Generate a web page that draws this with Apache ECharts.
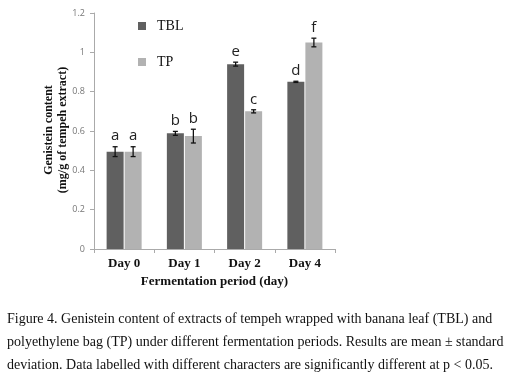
<!DOCTYPE html>
<html><head><meta charset="utf-8">
<script src="https://cdn.jsdelivr.net/npm/echarts@6/dist/echarts.min.js"></script>
<style>html,body{margin:0;padding:0;background:#fff}#c{width:518px;height:385px}</style>
</head><body><div id="c"></div>
<script>
const categories = ['Day 0', 'Day 1', 'Day 2', 'Day 4'];
const tblValues = [0.495, 0.588, 0.94, 0.85];
const tpValues = [0.495, 0.574, 0.70, 1.05];
const tblErr = [0.025, 0.01, 0.01, 0.003];
const tpErr = [0.025, 0.035, 0.008, 0.022];
const tblLetters = ['a', 'b', 'e', 'd'];
const tpLetters = ['a', 'b', 'c', 'f'];
const yTicks = [0, 0.2, 0.4, 0.6, 0.8, 1, 1.2];

const chart = echarts.init(document.getElementById('c'));
const OFF = 9;
function errSeries(vals, errs, letters, sign) {
  return {
    type: 'custom',
    z: 10,
    data: vals.map((v, i) => [i, v, errs[i]]),
    renderItem: function (params, api) {
      const i = api.value(0), v = api.value(1), e = api.value(2);
      const hi = api.coord([i, v + e]);
      const lo = api.coord([i, v - e]);
      const x = hi[0] + sign * OFF;
      const s = { stroke: '#111', lineWidth: 1.3 };
      return {
        type: 'group',
        children: [
          { type: 'line', shape: { x1: x, y1: hi[1], x2: x, y2: lo[1] }, style: s },
          { type: 'line', shape: { x1: x - 2.5, y1: hi[1], x2: x + 2.5, y2: hi[1] }, style: s },
          { type: 'line', shape: { x1: x - 2.5, y1: lo[1], x2: x + 2.5, y2: lo[1] }, style: s },
          { type: 'text', x: x, y: hi[1] - 3, style: { text: letters[params.dataIndex], fill: '#222', font: '15px "Open Sans", sans-serif', align: 'center', verticalAlign: 'bottom' } }
        ]
      };
    }
  };
}
const capFont = '14px "Liberation Serif"';
const option = {
  animation: false,
  backgroundColor: '#fff',
  grid: { left: 94, right: 183, top: 13, bottom: 136 },
  xAxis: {
    type: 'category', data: categories,
    axisLine: { lineStyle: { color: '#aaa' } },
    axisTick: { show: true, length: 4, lineStyle: { color: '#aaa' } },
    axisLabel: { color: '#111', fontFamily: 'Liberation Serif', fontWeight: 'bold', fontSize: 13, margin: 8 },
    name: 'Fermentation period (day)', nameLocation: 'middle', nameGap: 26,
    nameTextStyle: { color: '#111', fontFamily: 'Liberation Serif', fontWeight: 'bold', fontSize: 13 }
  },
  yAxis: {
    type: 'value', min: 0, max: 1.2, interval: 0.2,
    splitLine: { show: false },
    axisLine: { show: true, lineStyle: { color: '#aaa' } },
    axisTick: { show: true, length: 4, lineStyle: { color: '#aaa' } },
    axisLabel: { color: '#777', fontSize: 9, fontFamily: 'Open Sans', margin: 9,
      formatter: v => { const t = yTicks.find(x => Math.abs(x - v) < 1e-9); return t === undefined ? '' : String(t); } }
  },
  legend: {
    data: ['TBL', 'TP'], orient: 'vertical', left: 133, top: 14, itemGap: 22,
    itemWidth: 8, itemHeight: 8, icon: 'rect',
    textStyle: { fontFamily: 'Liberation Serif', fontSize: 14, color: '#111', padding: [0, 0, 0, 6] }
  },
  graphic: [
    { type: 'text', x: 49, y: 130, rotation: Math.PI / 2, style: { text: 'Genistein content', fill: '#111', font: 'bold 12px "Liberation Serif"', align: 'center', verticalAlign: 'middle' } },
    { type: 'text', x: 63, y: 130, rotation: Math.PI / 2, style: { text: '(mg/g of tempeh extract)', fill: '#111', font: 'bold 12px "Liberation Serif"', align: 'center', verticalAlign: 'middle' } },
    { type: 'text', x: 7, y: 312, style: { text: 'Figure 4. Genistein content of extracts of tempeh wrapped with banana leaf (TBL) and', fill: '#111', font: capFont } },
    { type: 'text', x: 7, y: 335, style: { text: 'polyethylene bag (TP) under different fermentation periods. Results are mean \u00b1 standard', fill: '#111', font: capFont } },
    { type: 'text', x: 7, y: 358, style: { text: 'deviation. Data labelled with different characters are significantly different at p < 0.05.', fill: '#111', font: capFont } }
  ],
  series: [
    { name: 'TBL', type: 'bar', data: tblValues, barWidth: 17, barGap: '6%', itemStyle: { color: '#606060' } },
    { name: 'TP', type: 'bar', data: tpValues, barWidth: 17, itemStyle: { color: '#b2b2b2' } },
    errSeries(tblValues, tblErr, tblLetters, -1),
    errSeries(tpValues, tpErr, tpLetters, 1)
  ]
};
chart.setOption(option);
</script></body></html>
